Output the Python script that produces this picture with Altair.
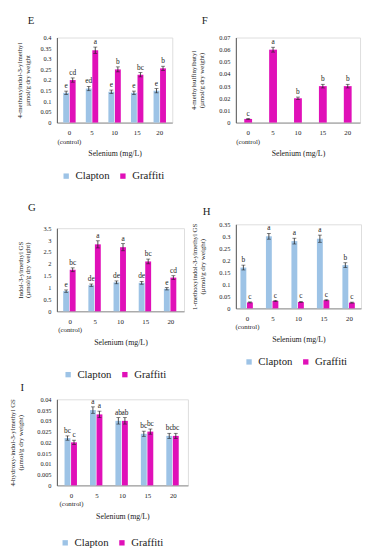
import altair as alt
import pandas as pd

doses = ["0", "5", "10", "15", "20"]
series = ["Clapton", "Graffiti"]
colors = ["#9DC3E6", "#E010B8"]

# Panel E
E_clap = [0.14, 0.16, 0.145, 0.14, 0.15]
E_clap_err = [0.008, 0.01, 0.008, 0.008, 0.01]
E_clap_sig = ["e", "ed", "e", "e", "e"]
E_graf = [0.20, 0.34, 0.25, 0.225, 0.255]
E_graf_err = [0.01, 0.015, 0.012, 0.01, 0.01]
E_graf_sig = ["cd", "a", "b", "bc", "b"]

# Panel F (Graffiti only)
F_graf = [0.003, 0.060, 0.020, 0.030, 0.030]
F_graf_err = [0.0004, 0.002, 0.001, 0.0015, 0.0015]
F_graf_sig = ["c", "a", "b", "b", "b"]

# Panel G
G_clap = [0.85, 1.10, 1.22, 1.20, 0.95]
G_clap_err = [0.05, 0.05, 0.06, 0.06, 0.05]
G_clap_sig = ["e", "de", "de", "de", "e"]
G_graf = [1.75, 2.82, 2.70, 2.10, 1.42]
G_graf_err = [0.08, 0.15, 0.15, 0.10, 0.08]
G_graf_sig = ["bc", "a", "a", "bc", "cd"]

# Panel H
H_clap = [0.17, 0.30, 0.28, 0.29, 0.18]
H_clap_err = [0.01, 0.012, 0.012, 0.015, 0.01]
H_clap_sig = ["b", "a", "a", "a", "b"]
H_graf = [0.025, 0.031, 0.027, 0.034, 0.024]
H_graf_err = [0.002, 0.002, 0.002, 0.002, 0.002]
H_graf_sig = ["c", "c", "c", "c", "c"]

# Panel I
I_clap = [0.022, 0.035, 0.030, 0.024, 0.023]
I_clap_err = [0.001, 0.0015, 0.0015, 0.0012, 0.0012]
I_clap_sig = ["bc", "a", "ab", "bc", "bc"]
I_graf = [0.020, 0.033, 0.030, 0.025, 0.023]
I_graf_err = [0.001, 0.0015, 0.0015, 0.0012, 0.0012]
I_graf_sig = ["c", "a", "ab", "bc", "bc"]

FONT = "Times New Roman, Liberation Serif, serif"


def make_df(groups):
    rows = []
    for name, vals, errs, sigs in groups:
        for d, v, e, s in zip(doses, vals, errs, sigs):
            rows.append({"dose": d, "series": name, "value": v,
                         "lo": v - e, "hi": v + e, "sig": s})
    return pd.DataFrame(rows)


def panel(letter, df, ymax, ystep, ytitle, width, height, title_offset, ytitle_pad,
          legend_pos=None, legend_padding=0, grouped=True, bar_size=6, pad_outer=0.25):
    nvals = int(round(ymax / ystep))
    yvals = [round(i * ystep, 6) for i in range(nvals + 1)]
    xenc = alt.X("dose:N", sort=doses,
                 scale=alt.Scale(domain=doses, paddingInner=0.45, paddingOuter=pad_outer),
                 axis=alt.Axis(title="Selenium (mg/L)", labelAngle=0,
                               labelExpr="datum.label == '0' ? ['0', '(control)'] : datum.label",
                               labelLineHeight=9, labelFontSize=7, labelFont=FONT,
                               titleFont=FONT, titleFontSize=8, titleFontWeight="normal",
                               titlePadding=6, ticks=False, domainColor="#8c8c8c",
                               labelPadding=6, labelColor="#222", titleColor="#222",
                               labelOverlap=False))
    yscale = alt.Scale(domain=[0, ymax], nice=False, zero=True)
    yaxis = alt.Axis(title=ytitle, values=yvals, tickCount=nvals + 1, grid=False, ticks=False,
                     labelExpr="format(datum.value, '~g')",
                     labelOverlap=False, labelFontSize=6.5, labelFont=FONT,
                     titleFont=FONT, titleFontSize=7,
                     titleFontWeight="normal", titleLineHeight=7.5, titlePadding=ytitle_pad,
                     domainColor="#555", labelPadding=6, labelColor="#222",
                     titleColor="#222")

    def Y(field):
        return alt.Y(field, type="quantitative", scale=yscale, axis=yaxis)

    base = alt.Chart(df)
    enc = {"x": xenc}
    if grouped:
        enc["xOffset"] = alt.XOffset("series:N", sort=series,
                                     scale=alt.Scale(domain=series, paddingInner=0.1))
    if legend_pos is None:
        leg = None
    else:
        leg = alt.Legend(title=None, orient="none", legendX=legend_pos[0] - legend_padding,
                         legendY=legend_pos[1] - legend_padding, padding=legend_padding,
                         direction="horizontal",
                         symbolType="square", symbolSize=30, symbolStrokeWidth=0,
                         labelFont=FONT, labelFontSize=11, labelColor="#222",
                         columnPadding=8, symbolOffset=0)
    bar_kwargs = {} if grouped else {"size": bar_size}
    bars = base.mark_bar(**bar_kwargs).encode(
        y=Y("value"),
        color=alt.Color("series:N", scale=alt.Scale(domain=series, range=colors), legend=leg),
        **enc)
    rules = base.mark_rule(color="#222", strokeWidth=0.8).encode(
        y=Y("lo"), y2="hi:Q", **enc)
    caps_lo = base.mark_tick(color="#222", size=4, thickness=0.8).encode(y=Y("lo"), **enc)
    caps_hi = base.mark_tick(color="#222", size=4, thickness=0.8).encode(y=Y("hi"), **enc)
    labels = base.mark_text(font=FONT, fontSize=7.5, dy=-5, color="#222").encode(
        y=Y("hi"), text="sig:N", **enc)
    return alt.layer(bars, rules, caps_lo, caps_hi, labels).properties(
        width=width, height=height,
        title=alt.TitleParams(letter, anchor="start", frame="bounds", font=FONT,
                              fontSize=11, fontWeight="normal", offset=title_offset,
                              dx=12, color="#222"))


dfE = make_df([("Clapton", E_clap, E_clap_err, E_clap_sig),
               ("Graffiti", E_graf, E_graf_err, E_graf_sig)])
dfF = make_df([("Graffiti", F_graf, F_graf_err, F_graf_sig)])
dfG = make_df([("Clapton", G_clap, G_clap_err, G_clap_sig),
               ("Graffiti", G_graf, G_graf_err, G_graf_sig)])
dfH = make_df([("Clapton", H_clap, H_clap_err, H_clap_sig),
               ("Graffiti", H_graf, H_graf_err, H_graf_sig)])
dfI = make_df([("Clapton", I_clap, I_clap_err, I_clap_sig),
               ("Graffiti", I_graf, I_graf_err, I_graf_sig)])

pE = panel("E", dfE, 0.4, 0.05, ["4-methoxyindol-3-ylmethyl", "µmol/g dry weight"],
           118, 87, 9, 10, legend_pos=(4, 136), legend_padding=19, pad_outer=0.28)
pG = panel("G", dfG, 3.5, 0.5, ["Indol-3-ylmethyl GS", "(µmol/g dry weight)"],
           130, 85, 13, 13, legend_pos=(6, 144))
pI = panel("I", dfI, 0.04, 0.005, ["4-hydroxy-indol-3-ylmethyl GS", "(µmol/g dry weight)"],
           134, 88, 4, 14, legend_pos=(3, 141), pad_outer=0.3)
pF = panel("F", dfF, 0.07, 0.01, ["4-methylsulfinylbutyl", "(µmol/g dry weight)"],
           127, 87, 9, 15, legend_pos=None, grouped=False, bar_size=8, pad_outer=0.22)
pH = panel("H", dfH, 0.35, 0.05, ["1-methoxyindol-3-ylmethyl GS", "(µmol/g dry weight)"],
           128, 86, 5, 14, legend_pos=(8, 135), pad_outer=0.18)

left = alt.concat(pE, pG, pI, columns=1, align="none", spacing=0).resolve_scale(
    color="independent")
right = alt.concat(pF, pH, columns=1, align="none", spacing=47).resolve_scale(
    color="independent")
chart = alt.hconcat(left, right, spacing=0).resolve_scale(
    color="independent"
).configure_view(stroke=None).configure(background="white", padding=0, font=FONT)

chart.save("out.html", embed_options={"renderer": "svg", "actions": False})
